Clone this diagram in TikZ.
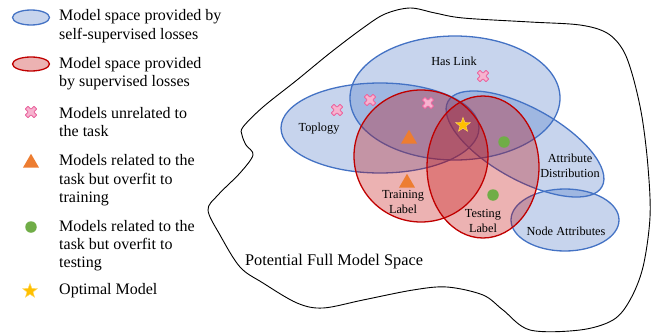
\documentclass[tikz,border=0pt]{standalone}
\usepackage{fontspec}
\setmainfont{Liberation Serif}
\usetikzlibrary{shapes.geometric}
\definecolor{bline}{HTML}{4472C4}
\definecolor{rline}{HTML}{C00000}
\definecolor{xfill}{HTML}{F7B3CF}
\definecolor{xdraw}{HTML}{E9669F}
\definecolor{tric}{HTML}{ED7D31}
\definecolor{dotc}{HTML}{70AD47}
\definecolor{starc}{HTML}{FFC000}
\definecolor{starl}{HTML}{FFD966}
\tikzset{
 bell/.style={draw=bline, line width=1.3pt, fill=bline, fill opacity=0.3},
 rell/.style={draw=rline, line width=1.3pt, fill=rline, fill opacity=0.3},
 legtext/.style={anchor=north west, inner sep=0pt, align=left, font=\fontsize{16}{18.3}\selectfont},
 lab/.style={inner sep=0pt, align=center, font=\fontsize{12.3}{15}\selectfont},
 trimk/.style={regular polygon, regular polygon sides=3, fill=tric, inner sep=0pt, minimum size=18.5pt},
 dotmk/.style={circle, fill=dotc, inner sep=0pt, minimum size=11.5pt},
 starmk/.style={star, star points=5, star point ratio=2.4, fill=starc, draw=starl, line width=0.4pt, inner sep=0pt, minimum size=15.5pt},
 xmk/.pic={\fill[xfill, draw=xdraw, line width=0.8pt, rounded corners=0.6pt]
   (0,2.8)--(3,5.8)--(5.8,3)--(2.8,0)--(5.8,-3)--(3,-5.8)--(0,-2.8)--(-3,-5.8)--(-5.8,-3)--(-2.8,0)--(-5.8,3)--(-3,5.8)--cycle;}
}
\begin{document}
\begin{tikzpicture}[x=1pt, y=-1pt]
\useasboundingbox (0,0) rectangle (655,332);
% full model space
\draw[line width=0.9pt] plot[smooth cycle, tension=0.55] coordinates {
 (243,127) (263,107) (297,80) (330,53) (363,28) (385,14) (410,8) (435,13) (463,18)
 (530,22) (580,25) (607,33) (623,50) (633,77) (642,117) (648,167) (650,217) (643,267)
 (630,300) (613,320) (580,330) (530,330) (503,310) (483,295) (447,287) (413,290)
 (363,300) (323,308) (297,303) (263,283) (240,267) (220,235) (208,210) (218,195)
 (240,173) (253,155) (246,145) (242,135)};
% self-supervised spaces
\draw[bell] (455,98) ellipse [x radius=105, y radius=62];
\draw[bell] (380,128) ellipse [x radius=99, y radius=45];
\draw[bell, rotate around={-29:(525,144)}] (525,144) ellipse [x radius=88, y radius=36];
\draw[bell] (565,220) ellipse [x radius=54, y radius=31];
% supervised spaces
\draw[rell] (421,156) ellipse [x radius=67, y radius=66];
\draw[rell] (483,167) ellipse [x radius=56, y radius=71];
% labels
\node[lab] (haslink) at (454,61) {Has Link};
\node[lab] (topo) at (319,129) {Toplogy};
\node[lab] (train) at (403,202) {Training\\Label};
\node[lab] (test) at (483,221) {Testing\\Label};
\node[lab] (attrd) at (570,166) {Attribute\\Distribution};
\node[lab] (nodea) at (566,231) {Node Attributes};
\node[inner sep=0pt, font=\fontsize{16.3}{19}\selectfont] (full) at (334,262) {Potential Full Model Space};
% markers
\pic (xa) at (337,110) {xmk};
\pic (xb) at (370,100) {xmk};
\pic (xc) at (428,103) {xmk};
\pic (xd) at (483,76) {xmk};
\node[trimk] (ta) at (409,139) {};
\node[trimk] (tb) at (407,183) {};
\node[dotmk] (da) at (504,142) {};
\node[dotmk] (db) at (493,195) {};
\node[starmk] (st) at (463,125) {};
% legend
\draw[draw=bline, line width=1.3pt, fill=bline, fill opacity=0.3] (31,17.5) ellipse [x radius=18.5, y radius=7.5];
\node[legtext] (l1) at (59,9.5) {Model space provided by\\self-supervised losses};
\draw[draw=rline, line width=1.3pt, fill=rline, fill opacity=0.3] (31,64) ellipse [x radius=18.5, y radius=7];
\node[legtext] (l2) at (59,57) {Model space provided\\by supervised losses};
\pic (lx) at (31,112) {xmk};
\node[legtext] (l3) at (59,107) {Models unrelated to\\the task};
\node[trimk] (lt) at (31,163) {};
\node[legtext] (l4) at (59,154.5) {Models related to the\\task but overfit to\\training};
\node[dotmk] (ld) at (31,227) {};
\node[legtext] (l5) at (59,220) {Models related to the\\task but overfit to\\testing};
\node[starmk] (ls) at (30,291) {};
\node[legtext] (l6) at (59,283) {Optimal Model};
\end{tikzpicture}
\end{document}
